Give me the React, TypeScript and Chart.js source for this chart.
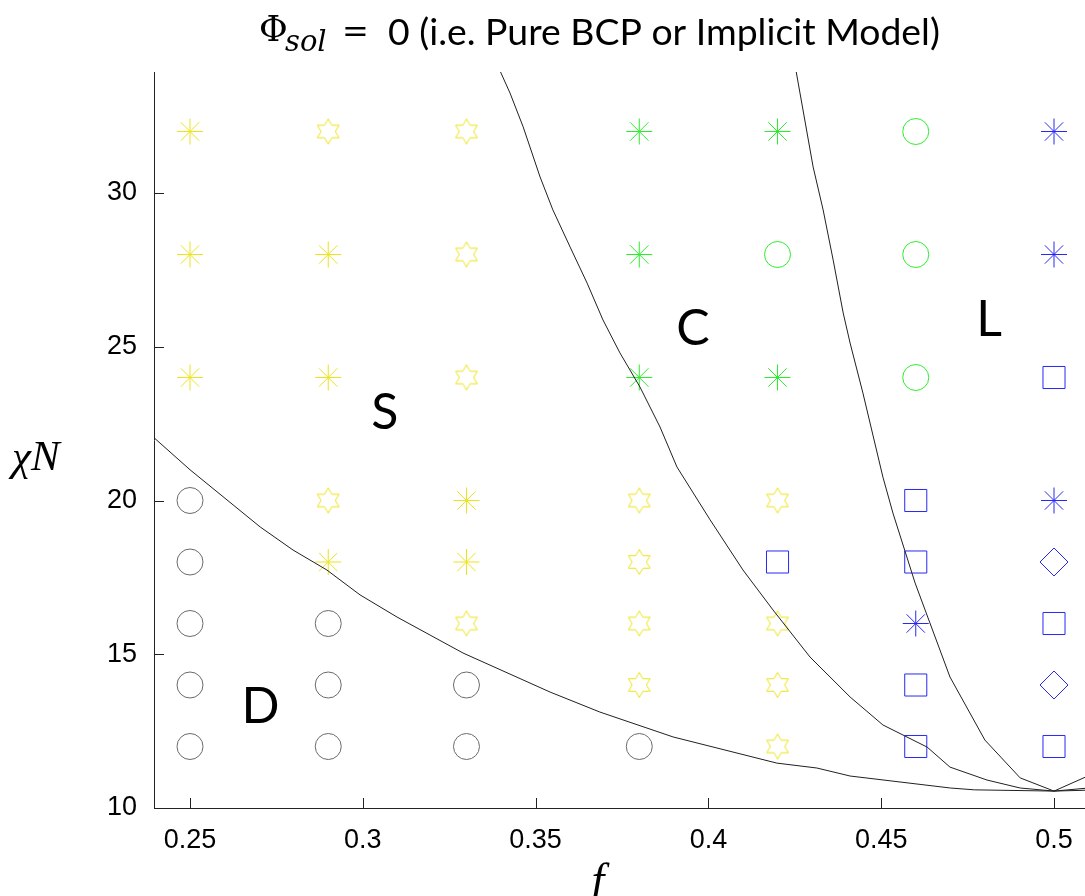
import React, { useEffect, useRef } from 'react';
import { Chart, registerables } from 'chart.js';

Chart.register(...registerables);

// ---- Data ----
const fValues = [0.25, 0.29, 0.33, 0.38, 0.42, 0.46, 0.5];
const chiNValues = [32, 28, 24, 20, 18, 16, 14, 12];

// phase marker codes per column (top row chiN=32 down to chiN=12)
const phaseF025 = ['S*', 'S*', 'S*', 'Do', 'Do', 'Do', 'Do', 'Do'];
const phaseF029 = ['Sh', 'S*', 'S*', 'Sh', 'S*', 'Do', 'Do', 'Do'];
const phaseF033 = ['Sh', 'Sh', 'Sh', 'S*', 'S*', 'Sh', 'Do', 'Do'];
const phaseF038 = ['C*', 'C*', 'C*', 'Sh', 'Sh', 'Sh', 'Sh', 'Do'];
const phaseF042 = ['C*', 'Co', 'C*', 'Sh', 'Ls', 'Sh', 'Sh', 'Sh'];
const phaseF046 = ['Co', 'Co', 'Co', 'Ls', 'Ls', 'L*', 'Ls', 'Ls'];
const phaseF050 = ['L*', 'L*', 'Ls', 'L*', 'Ld', 'Ls', 'Ld', 'Ls'];
const phaseColumns = [phaseF025, phaseF029, phaseF033, phaseF038, phaseF042, phaseF046, phaseF050];

// phase boundaries
const boundaryDS_f = [0.2390, 0.25, 0.2703, 0.2798, 0.2896, 0.2992, 0.3099, 0.329, 0.3542, 0.3686, 0.3898, 0.4198, 0.4314, 0.441, 0.470, 0.477, 0.5, 0.51];
const boundaryDS_chi = [22.1, 21.0, 19.14, 18.39, 17.74, 16.93, 16.21, 15.04, 13.77, 13.12, 12.31, 11.46, 11.30, 11.04, 10.65, 10.59, 10.55, 10.58];

const boundarySC_f = [0.3392, 0.3426, 0.3464, 0.3513, 0.3550, 0.3600, 0.3649, 0.3695, 0.3744, 0.3802, 0.3860, 0.3909, 0.4005, 0.4100, 0.4187, 0.4294, 0.4410, 0.4505, 0.4633, 0.4699, 0.4806, 0.4902, 0.5, 0.51];
const boundarySC_chi = [34.1, 33.25, 32.15, 30.52, 29.45, 28.24, 27.07, 25.87, 24.80, 23.69, 22.39, 21.09, 19.37, 17.74, 16.44, 14.91, 13.61, 12.70, 11.98, 11.33, 10.91, 10.65, 10.55, 10.65];

const boundaryCL_f = [0.4250, 0.4303, 0.4332, 0.4361, 0.4390, 0.4410, 0.4447, 0.4505, 0.4534, 0.4598, 0.4699, 0.4800, 0.4902, 0.5, 0.51];
const boundaryCL_chi = [34.2, 30.85, 29.45, 27.82, 26.10, 25.12, 23.50, 20.76, 19.59, 17.32, 14.26, 12.21, 10.98, 10.55, 11.05];

// region labels (baseline anchored)
const regionLabels = ['S', 'C', 'L', 'D'];
const regionLabelF = [0.3064, 0.3955, 0.4812, 0.2704];
const regionLabelChi = [22.33, 25.06, 25.35, 12.76];

const titleMain = '0 (i.e. Pure BCP or Implicit Model)';
const xAxisTitle = 'f';
const yAxisTitle = 'χN';

// ---- Styles ----
const YELLOW = '#ece31a';
const GREEN = '#2aee2a';
const BLUE = '#2828f4';
const BLACK_MARK = '#6a6a6a';
const LINE = '#202020';

function makeHexagram(color: string): HTMLCanvasElement {
  const c = document.createElement('canvas');
  c.width = 28;
  c.height = 28;
  const ctx = c.getContext('2d')!;
  const cx = 14, cy = 14, R = 12.5, r = 12.5 / Math.sqrt(3);
  ctx.beginPath();
  for (let i = 0; i < 12; i++) {
    const a = -Math.PI / 2 + (i * Math.PI) / 6;
    const rr = i % 2 === 0 ? R : r;
    const x = cx + rr * Math.cos(a);
    const y = cy + rr * Math.sin(a);
    if (i === 0) ctx.moveTo(x, y);
    else ctx.lineTo(x, y);
  }
  ctx.closePath();
  ctx.strokeStyle = color;
  ctx.lineWidth = 1;
  ctx.stroke();
  return c;
}

const X_MIN = 0.25 - 36 / 3456;
const X_MAX = 0.25 + (1085 - 190) / 3456;
const Y_MIN = 10;
const Y_MAX = 10 + 736 / 30.75;

export default function App() {
  const ref = useRef<HTMLCanvasElement | null>(null);

  useEffect(() => {
    if (!ref.current) return;
    const hex = makeHexagram(YELLOW);
    const markerDefs: Record<string, any> = {
      'S*': { pointStyle: 'star', radius: 13, color: YELLOW },
      'Sh': { pointStyle: hex, radius: 13, color: YELLOW },
      'Do': { pointStyle: 'circle', radius: 13, color: BLACK_MARK },
      'C*': { pointStyle: 'star', radius: 13, color: GREEN },
      'Co': { pointStyle: 'circle', radius: 13, color: GREEN },
      'Ls': { pointStyle: 'rect', radius: 15.6, color: BLUE },
      'L*': { pointStyle: 'star', radius: 13, color: BLUE },
      'Ld': { pointStyle: 'rectRot', radius: 14, color: BLUE },
    };
    const pointsByCode: Record<string, { x: number; y: number }[]> = {};
    phaseColumns.forEach((col, ci) => {
      col.forEach((code, ri) => {
        (pointsByCode[code] = pointsByCode[code] || []).push({ x: fValues[ci], y: chiNValues[ri] });
      });
    });
    const markerDatasets = Object.keys(pointsByCode).map((code) => {
      const d = markerDefs[code];
      return {
        type: 'scatter' as const,
        label: code,
        data: pointsByCode[code],
        pointStyle: d.pointStyle,
        pointRadius: d.radius,
        pointBorderColor: d.color,
        pointBackgroundColor: 'rgba(0,0,0,0)',
        pointBorderWidth: 1,
        showLine: false,
        clip: false,
      };
    });
    const mkLine = (fs: number[], cs: number[], label: string) => ({
      type: 'line' as const,
      label,
      data: fs.map((f, i) => ({ x: f, y: cs[i] })),
      borderColor: LINE,
      borderWidth: 1,
      pointRadius: 0,
      tension: 0,
      fill: false,
    });
    const lineDatasets = [
      mkLine(boundaryDS_f, boundaryDS_chi, 'D/S'),
      mkLine(boundarySC_f, boundarySC_chi, 'S/C'),
      mkLine(boundaryCL_f, boundaryCL_chi, 'C/L'),
    ];

    const decor = {
      id: 'decor',
      afterDraw(chart: any) {
        const ctx = chart.ctx as CanvasRenderingContext2D;
        const xs = chart.scales.x;
        const ys = chart.scales.y;
        const area = chart.chartArea;
        ctx.save();
        // inward tick marks
        ctx.strokeStyle = '#222';
        ctx.lineWidth = 1;
        xs.ticks.forEach((t: any) => {
          const px = Math.round(xs.getPixelForValue(t.value)) + 0.5;
          ctx.beginPath();
          ctx.moveTo(px, area.bottom);
          ctx.lineTo(px, area.bottom - 10);
          ctx.stroke();
        });
        ys.ticks.forEach((t: any) => {
          const py = Math.round(ys.getPixelForValue(t.value)) + 0.5;
          ctx.beginPath();
          ctx.moveTo(area.left, py);
          ctx.lineTo(area.left + 10, py);
          ctx.stroke();
        });
        // region labels
        ctx.fillStyle = '#000';
        ctx.font = '50px Lato, "Open Sans", sans-serif';
        ctx.textAlign = 'center';
        ctx.textBaseline = 'alphabetic';
        regionLabels.forEach((s, i) => {
          ctx.fillText(s, xs.getPixelForValue(regionLabelF[i]), ys.getPixelForValue(regionLabelChi[i]));
        });
        // title
        ctx.textAlign = 'left';
        ctx.font = '35px "DejaVu Serif", serif';
        ctx.fillText('Φ', 259, 41);
        ctx.font = 'italic 29px "DejaVu Serif", serif';
        ctx.fillText('sol', 285, 51);
        ctx.font = '32px "DejaVu Serif", serif';
        ctx.fillText('=', 342, 42);
        let fs = 32;
        ctx.font = `${fs}px Lato, "Open Sans", sans-serif`;
        const w = ctx.measureText(titleMain).width;
        fs = (fs * 552) / w;
        ctx.font = `${fs.toFixed(2)}px Lato, "Open Sans", sans-serif`;
        ctx.fillText(titleMain, 388, 45);
        // axis titles
        ctx.font = 'italic 43px "Liberation Serif", serif';
        ctx.fillText(yAxisTitle, 12, 470);
        ctx.textAlign = 'center';
        ctx.font = 'italic 46px "Liberation Serif", serif';
        ctx.fillText(xAxisTitle, 598, 895);
        ctx.restore();
      },
    };

    const tickFont = { family: '"Liberation Sans", Arial, sans-serif', size: 27 };
    const chart = new Chart(ref.current, {
      type: 'scatter',
      data: { datasets: [...lineDatasets, ...markerDatasets] as any },
      options: {
        animation: false,
        responsive: false,
        layout: { autoPadding: false, padding: { top: 72, right: 0, left: 0, bottom: 0 } },
        plugins: { legend: { display: false }, tooltip: { enabled: false }, title: { display: false } },
        scales: {
          x: {
            type: 'linear',
            min: X_MIN,
            max: X_MAX,
            grid: { display: false },
            border: { display: true, color: '#222', width: 1 },
            ticks: {
              stepSize: 0.05,
              includeBounds: false,
              autoSkip: false,
              maxRotation: 0,
              font: tickFont,
              color: '#000',
              padding: 8,
              callback: (v: any) => String(parseFloat(Number(v).toFixed(2))),
            },
            afterFit: (s: any) => {
              s.height = 88;
              s.paddingLeft = 0;
              s.paddingRight = 0;
            },
          },
          y: {
            type: 'linear',
            min: Y_MIN,
            max: Y_MAX,
            grid: { display: false },
            border: { display: true, color: '#222', width: 1 },
            ticks: {
              stepSize: 5,
              includeBounds: false,
              font: tickFont,
              color: '#000',
              padding: 9,
              callback: (v: any) => String(Math.round(Number(v))),
            },
            afterFit: (s: any) => {
              s.width = 154;
              s.paddingTop = 0;
              s.paddingBottom = 0;
            },
          },
        },
      },
      plugins: [decor],
    });
    return () => chart.destroy();
  }, []);

  return (
    <div style={{ position: 'absolute', left: 0, top: 0, width: 1085, height: 896, background: '#fff', overflow: 'hidden' }}>
      <canvas ref={ref} width={1085} height={896} style={{ display: 'block' }} />
    </div>
  );
}
